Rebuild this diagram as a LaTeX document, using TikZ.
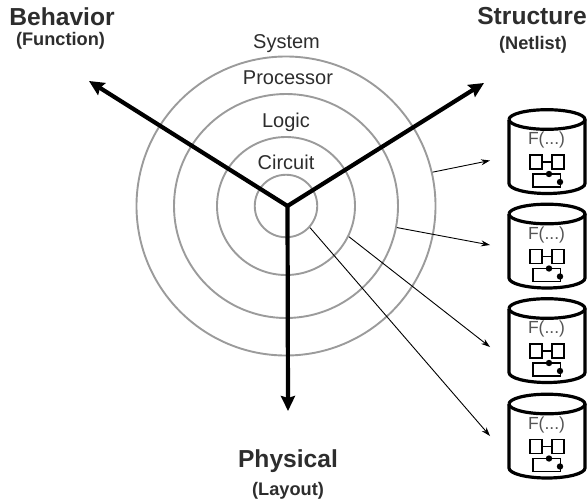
\documentclass[tikz,border=0pt]{standalone}
\usepackage{fontspec}
\setmainfont{Liberation Sans}
\usetikzlibrary{arrows.meta}
\definecolor{ringgray}{RGB}{155,155,155}
\definecolor{txtgray}{RGB}{45,45,45}
\definecolor{fgray}{RGB}{85,85,85}
\tikzset{
  ring/.style={circle,draw=ringgray,line width=1.9pt,inner sep=0pt,minimum size=#1},
  axisline/.style={line width=4.2pt,-{Stealth[length=15pt,width=14pt,inset=2pt]}},
  feed/.style={line width=0.9pt,-{Stealth[length=9pt,width=6pt]}},
  level/.style={font=\fontsize{20}{22}\selectfont,text=txtgray,inner sep=0pt,anchor=base},
  title/.style={font=\fontsize{24.6}{26}\selectfont\bfseries,text=txtgray,inner sep=0pt,anchor=base},
  subtitle/.style={font=\fontsize{18.2}{20}\selectfont\bfseries,text=txtgray,inner sep=0pt,anchor=base},
  cyl/.style={line width=3.2pt,black},
  icon/.style={line width=1.8pt,black},
  ftext/.style={font=\fontsize{17.5}{20}\selectfont,text=fgray,inner sep=0pt,anchor=base},
  pics/store/.style={code={
    \draw[cyl] (-38,0) arc[start angle=180,end angle=540,x radius=38,y radius=9.8];
    \draw[cyl] (-38,0) -- (-38,64) arc[start angle=180,end angle=0,x radius=38,y radius=10] -- (38,0);
    \node[ftext] (#1f) at (-0.5,25) {F(...)};
    \draw[icon] (-17,35.5) rectangle (-5,49.5);
    \draw[icon] (5,35.5) rectangle (17,49.5);
    \draw[icon] (-5,42.5) -- (5,42.5);
    \draw[icon] (-14,54.5) rectangle (13.5,67.5);
    \fill (2,54.5) circle[radius=3.2];
    \fill (13,62.5) circle[radius=3.2];
  }}
}
\begin{document}
\begin{tikzpicture}[x=1pt,y=-1pt]
\useasboundingbox (0,0) rectangle (588,501);
\coordinate (o) at (286,206);
\coordinate (oaxis) at (287.5,206);
\node[ring=62.5pt] (r1) at (o) {};
\node[ring=138pt] (r2) at (o) {};
\node[ring=224pt] (r3) at (o) {};
\node[ring=299pt] (r4) at (o) {};

\node[level] (lsys) at (286.5,48) {System};
\node[level] (lproc) at (288,84) {Processor};
\node[level] (llog) at (286,127) {Logic};
\node[level] (lcir) at (286,169) {Circuit};

\coordinate (abeh) at (89,81);
\coordinate (astr) at (484,83);
\coordinate (aphy) at (288,411);
\draw[axisline] (oaxis) -- (abeh);
\draw[axisline] (oaxis) -- (astr);
\draw[axisline] (oaxis) -- (aphy);

\node[title] (tbeh) at (62,25) {Behavior};
\node[subtitle] (sbeh) at (60.5,45) {(Function)};
\node[title] (tstr) at (532,24) {Structure};
\node[subtitle] (sstr) at (533,49) {(Netlist)};
\node[title] (tphy) at (288,467) {Physical};
\node[subtitle] (sphy) at (288,495) {(Layout)};

\pic at (547,119.5) {store=a};
\pic at (547,214) {store=b};
\pic at (547,308.5) {store=c};
\pic at (547,404) {store=d};

\coordinate (ea) at (490,160.5);
\coordinate (eb) at (490,245);
\coordinate (ec) at (490,347);
\coordinate (ed) at (490,436);
\draw[feed] (r4.13.3) -- (ea);
\draw[feed] (r3.-11) -- (eb);
\draw[feed] (r2.-26) -- (ec);
\draw[feed] (r1.-42) -- (ed);
\end{tikzpicture}
\end{document}
